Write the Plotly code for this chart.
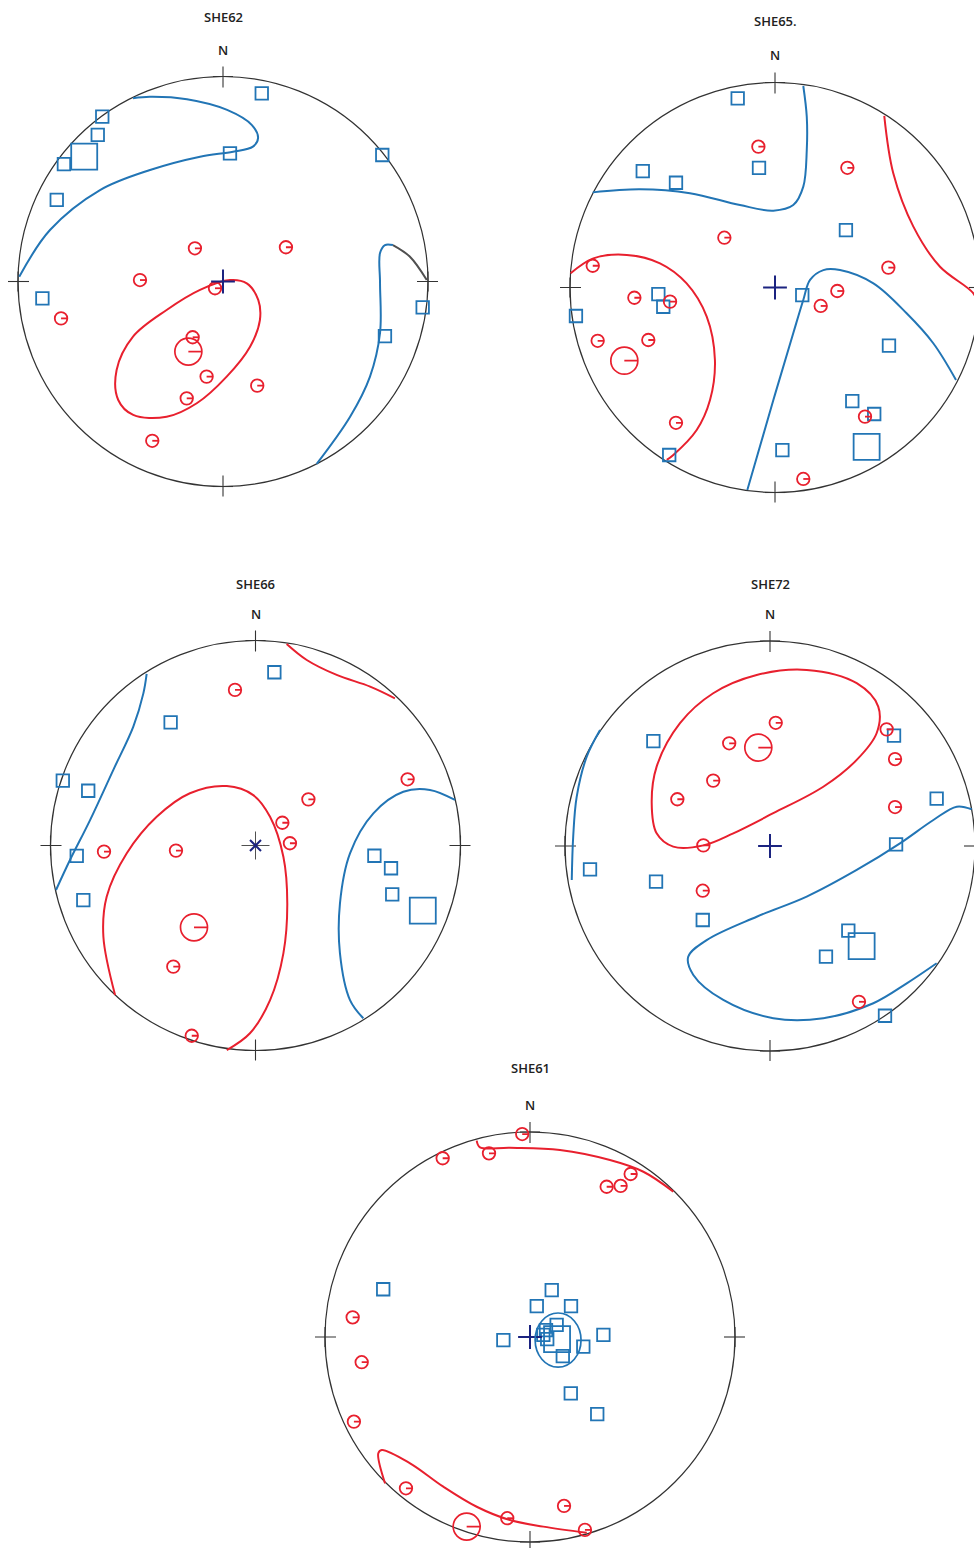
import plotly.graph_objects as go

# ---------------------------------------------------------------
# Pole positions on each equal-area net, as (east, north) in units
# of the net radius. "red" = circles, "blue" = squares, "*_mean" =
# the large mean symbol. Contours are vertex lists on the same net.
# ---------------------------------------------------------------

# SHE62
she62_red = [(-0.137, 0.162), (0.307, 0.167), (-0.405, 0.007), (-0.039, -0.033),
             (-0.790, -0.180), (-0.148, -0.272), (-0.080, -0.464), (0.167, -0.508),
             (-0.177, -0.570), (-0.345, -0.777)]
she62_red_mean = [(-0.169, -0.342)]
she62_blue = [(0.189, 0.918), (-0.589, 0.804), (-0.611, 0.715), (-0.776, 0.573),
              (-0.811, 0.398), (0.034, 0.625), (0.777, 0.617), (-0.881, -0.082),
              (0.974, -0.126), (0.790, -0.266)]
she62_blue_mean = [(-0.677, 0.609)]
she62_red_contours = [
    [(-0.275, -0.139), (-0.112, -0.041), (0.034, 0.007), (0.116, -0.009), (0.172, -0.090),
     (0.180, -0.188), (0.132, -0.318), (0.018, -0.464), (-0.128, -0.594), (-0.275, -0.660),
     (-0.438, -0.651), (-0.511, -0.578), (-0.519, -0.432), (-0.439, -0.269), (-0.275, -0.139)],
]
she62_blue_contours = [
    [(-0.994, 0.023), (-0.844, 0.251), (-0.600, 0.446), (-0.356, 0.544), (-0.112, 0.609),
     (0.049, 0.633), (0.146, 0.658), (0.171, 0.700), (0.141, 0.763), (0.020, 0.837),
     (-0.176, 0.889), (-0.356, 0.901), (-0.439, 0.894)],
    [(0.457, -0.890), (0.620, -0.660), (0.717, -0.464), (0.766, -0.251), (0.766, -0.007),
     (0.766, 0.139), (0.790, 0.178), (0.829, 0.178)],
]
she62_grey_contours = [
    [(0.829, 0.178), (0.912, 0.121), (0.994, 0.007)],
]

# SHE65.
she65_red = [(-0.081, 0.687), (0.353, 0.584), (-0.247, 0.243), (-0.889, 0.106),
             (0.553, 0.097), (-0.686, -0.050), (-0.512, -0.069), (0.304, -0.017),
             (0.223, -0.090), (-0.865, -0.260), (-0.618, -0.256), (-0.483, -0.660),
             (0.439, -0.630), (0.138, -0.934)]
she65_red_mean = [(-0.735, -0.357)]
she65_blue = [(-0.182, 0.923), (-0.645, 0.568), (-0.483, 0.511), (-0.078, 0.584),
              (0.346, 0.280), (-0.569, -0.032), (-0.545, -0.094), (-0.971, -0.139),
              (0.133, -0.037), (0.556, -0.284), (0.377, -0.554), (0.484, -0.617),
              (0.036, -0.793), (-0.516, -0.817)]
she65_blue_mean = [(0.447, -0.777)]
she65_red_contours = [
    [(-0.997, 0.069), (-0.886, 0.142), (-0.723, 0.159), (-0.561, 0.118), (-0.431, 0.020),
     (-0.333, -0.142), (-0.293, -0.354), (-0.317, -0.549), (-0.382, -0.695), (-0.496, -0.817),
     (-0.528, -0.841)],
    [(0.533, 0.837), (0.577, 0.557), (0.675, 0.297), (0.805, 0.101), (0.967, -0.028),
     (0.990, -0.085)],
]
she65_blue_contours = [
    [(-0.889, 0.464), (-0.659, 0.479), (-0.415, 0.460), (-0.171, 0.402), (-0.008, 0.375),
     (0.089, 0.402), (0.138, 0.492), (0.155, 0.671), (0.155, 0.833), (0.138, 0.983)],
    [(-0.135, -0.988), (-0.008, -0.549), (0.089, -0.223), (0.138, -0.061), (0.171, 0.037),
     (0.236, 0.085), (0.317, 0.085), (0.480, 0.020), (0.642, -0.126), (0.772, -0.272),
     (0.883, -0.451)],
]
she65_grey_contours = []

# SHE66
she66_red = [(-0.100, 0.759), (0.742, 0.323), (0.258, 0.225), (0.131, 0.111),
             (0.168, 0.011), (-0.739, -0.030), (-0.388, -0.025), (-0.401, -0.591),
             (-0.311, -0.928)]
she66_red_mean = [(-0.300, -0.399)]
she66_blue = [(0.092, 0.845), (-0.414, 0.601), (-0.940, 0.316), (-0.816, 0.267),
              (-0.872, -0.051), (-0.840, -0.266), (0.580, -0.050), (0.661, -0.111),
              (0.667, -0.238)]
she66_blue_mean = [(0.816, -0.318)]
she66_red_contours = [
    [(0.152, 0.983), (0.250, 0.905), (0.396, 0.832), (0.559, 0.775), (0.680, 0.718)],
    [(-0.685, -0.729), (-0.742, -0.445), (-0.726, -0.250), (-0.628, -0.038), (-0.482, 0.140),
     (-0.320, 0.255), (-0.140, 0.290), (-0.011, 0.246), (0.071, 0.140), (0.136, -0.055),
     (0.155, -0.282), (0.136, -0.526), (0.071, -0.754), (-0.027, -0.916), (-0.140, -0.998)],
]
she66_blue_contours = [
    [(-0.531, 0.837), (-0.547, 0.742), (-0.596, 0.580), (-0.694, 0.368), (-0.807, 0.124),
     (-0.905, -0.071), (-0.973, -0.217)],
    [(0.973, 0.222), (0.851, 0.271), (0.721, 0.262), (0.575, 0.157), (0.461, -0.038),
     (0.412, -0.282), (0.412, -0.526), (0.461, -0.754), (0.526, -0.843)],
]
she66_grey_contours = []

# SHE72
she72_red = [(0.028, 0.601), (-0.199, 0.501), (0.569, 0.569), (0.610, 0.424),
             (-0.277, 0.319), (-0.452, 0.228), (0.610, 0.190), (-0.325, 0.003),
             (-0.328, -0.218), (0.434, -0.760)]
she72_red_mean = [(-0.057, 0.480)]
she72_blue = [(-0.569, 0.512), (0.605, 0.538), (0.813, 0.231), (0.615, 0.008),
              (-0.878, -0.114), (-0.556, -0.174), (-0.328, -0.361), (0.382, -0.413),
              (0.273, -0.540), (0.561, -0.828)]
she72_blue_mean = [(0.447, -0.488)]
she72_red_contours = [
    [(0.260, 0.289), (0.016, 0.160), (-0.179, 0.062), (-0.325, 0.003), (-0.472, -0.003),
     (-0.553, 0.062), (-0.577, 0.208), (-0.553, 0.387), (-0.439, 0.599), (-0.277, 0.745),
     (-0.065, 0.834), (0.179, 0.859), (0.423, 0.794), (0.528, 0.680), (0.520, 0.550),
     (0.423, 0.420), (0.260, 0.289)],
]
she72_blue_contours = [
    [(0.984, 0.179), (0.911, 0.192), (0.797, 0.127), (0.634, 0.013), (0.423, -0.117),
     (0.179, -0.247), (-0.065, -0.345), (-0.309, -0.459), (-0.399, -0.540), (-0.374, -0.629),
     (-0.228, -0.751), (0.016, -0.840), (0.260, -0.840), (0.504, -0.767), (0.667, -0.670),
     (0.813, -0.572)],
    [(-0.829, 0.566), (-0.894, 0.436), (-0.943, 0.240), (-0.960, 0.045), (-0.967, -0.166)],
]
she72_grey_contours = []

# SHE61
she61_red = [(-0.038, 0.990), (-0.426, 0.872), (-0.200, 0.896), (0.491, 0.795),
             (0.442, 0.737), (0.374, 0.733), (-0.865, 0.096), (-0.821, -0.123),
             (-0.859, -0.413), (-0.605, -0.738), (0.166, -0.824), (-0.111, -0.884),
             (0.268, -0.941)]
she61_red_mean = [(-0.309, -0.925)]
she61_blue = [(0.106, 0.229), (0.033, 0.151), (0.200, 0.151), (-0.130, -0.015),
              (0.358, 0.010), (0.260, -0.047), (0.130, 0.059), (0.078, 0.034),
              (0.065, 0.010), (0.084, -0.010), (0.160, -0.093), (-0.716, 0.233),
              (0.199, -0.275), (0.328, -0.376)]
she61_blue_mean = [(0.132, -0.010)]
# confidence cone round the blue mean: centre east, centre north, half-width, half-height
she61_blue_cone = (0.137, -0.015, 0.112, 0.132)
she61_red_contours = [
    [(-0.260, 0.958), (-0.244, 0.925), (-0.098, 0.923), (0.146, 0.912), (0.390, 0.863),
     (0.553, 0.806), (0.699, 0.709)],
    [(-0.707, -0.714), (-0.740, -0.567), (-0.723, -0.551), (-0.585, -0.616), (-0.423, -0.730),
     (-0.260, -0.828), (-0.098, -0.893), (0.065, -0.925), (0.277, -0.955)],
]
she61_blue_contours = []
she61_grey_contours = []

# ---------------------------------------------------------------
# Page layout
# ---------------------------------------------------------------
W, H = 974, 1548
R = 205.0          # net radius in pixels
EXT = 1.16         # plotted extent beyond the primitive circle

RED = "#e8202e"
BLUE = "#2275b5"
GREY = "#505050"
FRAME = "#333333"
NAVY = "#1b2380"
TEXT = "#222222"
FONT = "Open Sans"

nets = [
    dict(title="SHE62", cx=223.0, cy=281.5, gap=59, star=False,
         red=she62_red, red_mean=she62_red_mean, blue=she62_blue, blue_mean=she62_blue_mean,
         rc=she62_red_contours, bc=she62_blue_contours, gc=she62_grey_contours, cone=None),
    dict(title="SHE65.", cx=775.0, cy=287.5, gap=61, star=False,
         red=she65_red, red_mean=she65_red_mean, blue=she65_blue, blue_mean=she65_blue_mean,
         rc=she65_red_contours, bc=she65_blue_contours, gc=she65_grey_contours, cone=None),
    dict(title="SHE66", cx=255.5, cy=845.5, gap=57, star=True,
         red=she66_red, red_mean=she66_red_mean, blue=she66_blue, blue_mean=she66_blue_mean,
         rc=she66_red_contours, bc=she66_blue_contours, gc=she66_grey_contours, cone=None),
    dict(title="SHE72", cx=770.0, cy=846.0, gap=57, star=False,
         red=she72_red, red_mean=she72_red_mean, blue=she72_blue, blue_mean=she72_blue_mean,
         rc=she72_red_contours, bc=she72_blue_contours, gc=she72_grey_contours, cone=None),
    dict(title="SHE61", cx=530.0, cy=1337.0, gap=64, star=False,
         red=she61_red, red_mean=she61_red_mean, blue=she61_blue, blue_mean=she61_blue_mean,
         rc=she61_red_contours, bc=she61_blue_contours, gc=she61_grey_contours, cone=she61_blue_cone),
]

fig = go.Figure()
shapes = []
annotations = []


def xs(pts):
    return [p[0] for p in pts]


def ys(pts):
    return [p[1] for p in pts]


def tick_segments(pts, length):
    """Short line from each circle's centre to its right-hand edge."""
    tx, ty = [], []
    for x, y in pts:
        tx += [x, x + length, None]
        ty += [y, y, None]
    return tx, ty


for i, net in enumerate(nets, start=1):
    sfx = "" if i == 1 else str(i)
    xa, ya = "x" + sfx, "y" + sfx
    cx, cy = net["cx"], net["cy"]

    # axis domain/range so one net unit is exactly R pixels
    d0 = max(0.0, (cx - EXT * R) / W)
    d1 = min(1.0, (cx + EXT * R) / W)
    e0 = max(0.0, 1 - (cy + EXT * R) / H)
    e1 = min(1.0, 1 - (cy - EXT * R) / H)
    xr = [(d0 * W - cx) / R, (d1 * W - cx) / R]
    yr = [(cy - (1 - e0) * H) / R, (cy - (1 - e1) * H) / R]
    axis_common = dict(visible=False, showgrid=False, zeroline=False, fixedrange=True)
    fig.layout["xaxis" + sfx] = dict(domain=[d0, d1], range=xr, anchor=ya, **axis_common)
    fig.layout["yaxis" + sfx] = dict(domain=[e0, e1], range=yr, anchor=xa, **axis_common)

    # primitive circle
    shapes.append(dict(type="circle", xref=xa, yref=ya, x0=-1, y0=-1, x1=1, y1=1,
                       line=dict(color=FRAME, width=1.2), layer="below"))
    # N / E / S / W ticks
    r_in, r_out, half = 1 - 11 / R, 1 + 10 / R, 10 / R
    for ux, uy in [(0, 1), (1, 0), (0, -1), (-1, 0)]:
        shapes.append(dict(type="line", xref=xa, yref=ya,
                           x0=ux * r_in, y0=uy * r_in, x1=ux * r_out, y1=uy * r_out,
                           line=dict(color=FRAME, width=1.1), layer="below"))
        shapes.append(dict(type="line", xref=xa, yref=ya,
                           x0=ux - uy * half, y0=uy - ux * half, x1=ux + uy * half, y1=uy + ux * half,
                           line=dict(color=FRAME, width=1.1), layer="below"))

    # contours
    for pts, col in [(c, RED) for c in net["rc"]] + [(c, BLUE) for c in net["bc"]] + \
                    [(c, GREY) for c in net["gc"]]:
        fig.add_trace(go.Scatter(x=xs(pts), y=ys(pts), mode="lines", xaxis=xa, yaxis=ya,
                                 line=dict(color=col, width=2.0, shape="spline", smoothing=1.0),
                                 hoverinfo="skip"))

    # cone of confidence
    if net["cone"] is not None:
        ex, ey, rx, ry = net["cone"]
        shapes.append(dict(type="circle", xref=xa, yref=ya,
                           x0=ex - rx, y0=ey - ry, x1=ex + rx, y1=ey + ry,
                           line=dict(color=BLUE, width=1.7), layer="above"))

    # squares
    fig.add_trace(go.Scatter(x=xs(net["blue"]), y=ys(net["blue"]), mode="markers",
                             xaxis=xa, yaxis=ya, hoverinfo="skip",
                             marker=dict(symbol="square-open", size=12.5, color=BLUE,
                                         line=dict(width=1.8, color=BLUE))))
    fig.add_trace(go.Scatter(x=xs(net["blue_mean"]), y=ys(net["blue_mean"]), mode="markers",
                             xaxis=xa, yaxis=ya, hoverinfo="skip",
                             marker=dict(symbol="square-open", size=26, color=BLUE,
                                         line=dict(width=1.8, color=BLUE))))

    # circles with a centre-to-edge tick
    fig.add_trace(go.Scatter(x=xs(net["red"]), y=ys(net["red"]), mode="markers",
                             xaxis=xa, yaxis=ya, hoverinfo="skip",
                             marker=dict(symbol="circle-open", size=12.5, color=RED,
                                         line=dict(width=1.8, color=RED))))
    tx, ty = tick_segments(net["red"], 6.2 / R)
    fig.add_trace(go.Scatter(x=tx, y=ty, mode="lines", xaxis=xa, yaxis=ya, hoverinfo="skip",
                             line=dict(color=RED, width=1.8)))
    fig.add_trace(go.Scatter(x=xs(net["red_mean"]), y=ys(net["red_mean"]), mode="markers",
                             xaxis=xa, yaxis=ya, hoverinfo="skip",
                             marker=dict(symbol="circle-open", size=27, color=RED,
                                         line=dict(width=1.7, color=RED))))
    tx, ty = tick_segments(net["red_mean"], 13.5 / R)
    fig.add_trace(go.Scatter(x=tx, y=ty, mode="lines", xaxis=xa, yaxis=ya, hoverinfo="skip",
                             line=dict(color=RED, width=1.7)))

    # centre mark
    if net["star"]:
        fig.add_trace(go.Scatter(x=[0], y=[0], mode="markers", xaxis=xa, yaxis=ya, hoverinfo="skip",
                                 marker=dict(symbol="cross-thin-open", size=20, color=GREY,
                                             line=dict(width=1, color=GREY))))
        fig.add_trace(go.Scatter(x=[0], y=[0], mode="markers", xaxis=xa, yaxis=ya, hoverinfo="skip",
                                 marker=dict(symbol="x-thin-open", size=11, color=NAVY,
                                             line=dict(width=2, color=NAVY))))
    else:
        fig.add_trace(go.Scatter(x=[0], y=[0], mode="markers", xaxis=xa, yaxis=ya, hoverinfo="skip",
                                 marker=dict(symbol="cross-thin-open", size=17, color=NAVY,
                                             line=dict(width=2, color=NAVY))))

    # labels placed on the page just above each net
    top_px = cy - R
    for text, gap in [("N", 27), (net["title"], net["gap"])]:
        annotations.append(dict(xref="paper", yref="paper", x=cx / W, y=1 - (top_px - gap) / H,
                                text=text, showarrow=False, xanchor="center", yanchor="middle",
                                font=dict(family=FONT, size=13, color=TEXT, weight=600)))

fig.update_layout(
    width=W, height=H,
    margin=dict(l=0, r=0, t=0, b=0),
    paper_bgcolor="white", plot_bgcolor="rgba(0,0,0,0)",
    showlegend=False,
    shapes=shapes,
    annotations=annotations,
)

fig.write_html("out.html")
